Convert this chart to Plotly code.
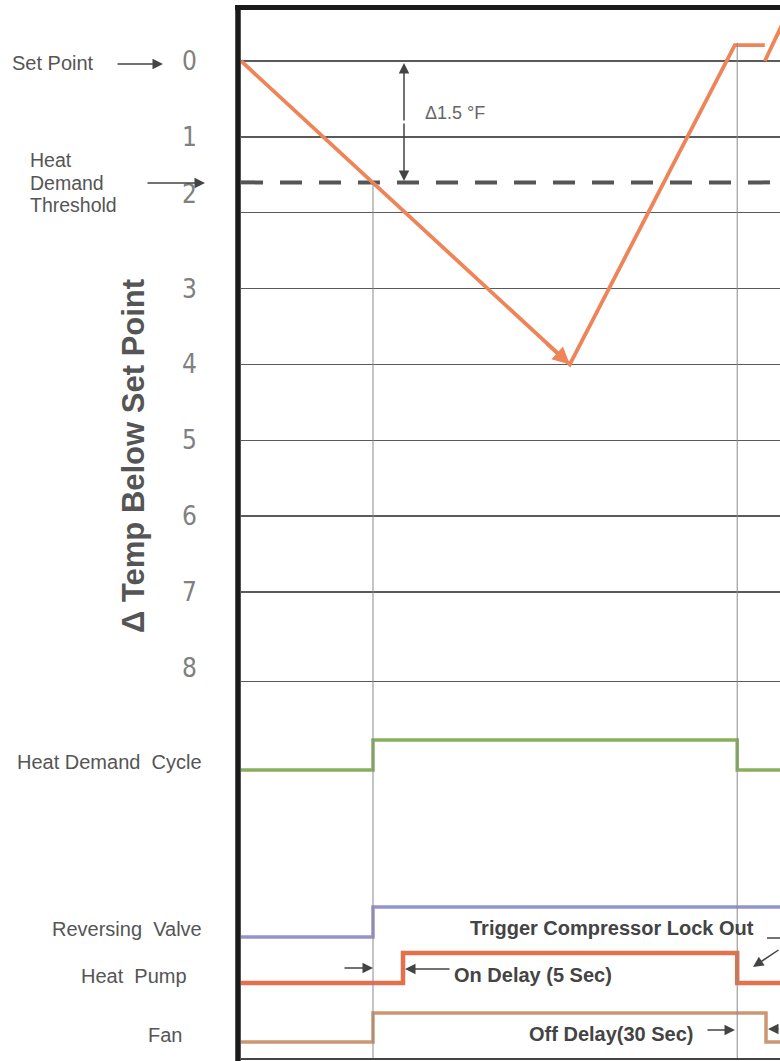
import plotly.graph_objects as go

# ---------------- data ----------------
# time axis (arbitrary units), temperature below set point (deg F)
temp_t = [0, 54.8, 82.3, 87.3]
temp_v = [0, 4.0, -0.21, -0.21]
temp2_t = [87.3, 90.6]
temp2_v = [0.0, -0.55]
threshold = 1.6

grid_vals = [0, 1, 2, 3, 4, 5, 6, 7, 8.18]
tick_text = ["0", "1", "2", "3", "4", "5", "6", "7", "8"]
tick_pos = [0, 1, 1.75, 3, 4, 5, 6, 7, 8]

# digital signals (second axis, each row has its own baseline)
hd_t = [0, 22, 82.7, 90]
hd_v = [9.6, 10.6, 9.6, 9.6]
rv_t = [0, 22, 90]
rv_v = [4.03, 5.03, 5.03]
hp_t = [0, 27, 82.7, 90]
hp_v = [2.5, 3.5, 2.5, 2.5]
fan_t = [0, 22, 87.5, 90]
fan_v = [0.53, 1.5, 0.53, 0.53]

cycle_start = 22
cycle_end = 82.7

# ---------------- layout helpers ----------------
W, H = 780, 1061
ML, MR, MT, MB = 241, 0, 10, 3
PW, PH = W - ML - MR, H - MT - MB


def px_x(p):
    return (p - ML) / PW


def px_y(p):
    return (H - MB - p) / PH


ORANGE = "#EE8458"
LBL = "#555555"
DARK = "#444444"
FONT = "Liberation Sans, Arial, sans-serif"

fig = go.Figure()

fig.add_trace(go.Scatter(x=temp_t, y=temp_v, mode="lines",
                         line=dict(color=ORANGE, width=3.8), yaxis="y"))
fig.add_trace(go.Scatter(x=temp2_t, y=temp2_v, mode="lines",
                         line=dict(color=ORANGE, width=3.8), yaxis="y"))

fig.add_trace(go.Scatter(x=hd_t, y=hd_v, mode="lines", line_shape="hv",
                         line=dict(color="#86B05E", width=3.5), yaxis="y2"))
fig.add_trace(go.Scatter(x=rv_t, y=rv_v, mode="lines", line_shape="hv",
                         line=dict(color="#9494CC", width=3.5), yaxis="y2"))
fig.add_trace(go.Scatter(x=hp_t, y=hp_v, mode="lines", line_shape="hv",
                         line=dict(color="#E4714C", width=4.5), yaxis="y2"))
fig.add_trace(go.Scatter(x=fan_t, y=fan_v, mode="lines", line_shape="hv",
                         line=dict(color="#CC9670", width=3.5), yaxis="y2"))

shapes = []
# threshold dashed line
shapes.append(dict(type="line", xref="paper", yref="y", x0=0, x1=1,
                   y0=threshold, y1=threshold,
                   line=dict(color="#555555", width=4, dash="22px,17px"), layer="below"))
# vertical cycle lines
shapes.append(dict(type="line", xref="x", yref="y", x0=cycle_start, x1=cycle_start,
                   y0=threshold, y1=13.2, line=dict(color="#8a8a8a", width=1)))
shapes.append(dict(type="line", xref="x", yref="y", x0=cycle_end, x1=cycle_end,
                   y0=-0.24, y1=13.2, line=dict(color="#8a8a8a", width=1)))
# frame: thick left and top borders
shapes.append(dict(type="line", xref="paper", yref="paper", x0=px_x(238), x1=px_x(238),
                   y0=px_y(1061), y1=px_y(5), line=dict(color="#1a1a1a", width=5.5)))
shapes.append(dict(type="line", xref="paper", yref="paper", x0=px_x(235), x1=1.01,
                   y0=px_y(7.5), y1=px_y(7.5), line=dict(color="#1a1a1a", width=5)))
# lock-out elbow leader
shapes.append(dict(type="line", xref="paper", yref="paper", x0=px_x(767), x1=px_x(792),
                   y0=px_y(938), y1=px_y(938), line=dict(color=DARK, width=1.5)))

ann = []


def text(t, x, y, size=20, anchor="right", color=LBL, family=FONT, **kw):
    ann.append(dict(text=t, xref="paper", yref="paper", x=px_x(x), y=px_y(y),
                    xanchor=anchor, yanchor="middle", showarrow=False,
                    font=dict(size=size, color=color, family=family), **kw))


def arrow(hx, hy, tx, ty, width=1.5, color=DARK, head=2, size=1.4):
    ann.append(dict(text="", xref="paper", yref="paper", x=px_x(hx), y=px_y(hy),
                    ax=tx - hx, ay=ty - hy, showarrow=True, arrowhead=head,
                    arrowsize=size, arrowwidth=width, arrowcolor=color, standoff=0))


# tick labels
for lab, pos in zip(tick_text, tick_pos):
    ann.append(dict(text=lab, xref="paper", yref="y", x=px_x(189), y=pos,
                    xanchor="center", yanchor="middle", showarrow=False,
                    font=dict(size=26, color="#808080",
                              family="Liberation Sans Narrow, DejaVu Sans Condensed, sans-serif")))

text("Set Point", 96, 63)
arrow(163, 64, 116, 64)
text("Heat", 28, 160, size=19.5, anchor="left")
text("Demand", 28, 183, size=19.5, anchor="left")
text("Threshold", 28, 205, size=19.5, anchor="left")
arrow(205, 183, 146, 183)

text("Heat Demand  Cycle", 204, 762)
text("Reversing  Valve", 204, 929)
text("Heat  Pump", 189, 976)
text("Fan", 184, 1035)

# y title
ann.append(dict(text="<b>Δ Temp Below Set Point</b>", xref="paper", yref="paper",
                x=px_x(134), y=px_y(456), xanchor="center", yanchor="middle",
                textangle=-90, showarrow=False,
                font=dict(size=31, color=LBL, family=FONT)))

# delta annotation
arrow(404, 63, 404, 122)
arrow(404, 181, 404, 122)
text("Δ1.5 °F", 423, 113, size=18, anchor="left", color="#666666")

# min-point arrowhead on temperature curve
ann.append(dict(text="", xref="x", yref="y", x=temp_t[1], y=temp_v[1],
                axref="x", ayref="y", ax=temp_t[1] - 4, ay=temp_v[1] - 0.29,
                showarrow=True, arrowhead=2, arrowsize=0.9, arrowwidth=3.8,
                arrowcolor=ORANGE, standoff=0))

# bottom annotations
text("<b>Trigger Compressor Lock Out</b>", 468, 928, size=20, anchor="left", color=DARK)
arrow(753, 967, 792, 949)
arrow(373, 968, 343, 968)
arrow(405, 969, 451, 969)
text("<b>On Delay (5 Sec)</b>", 452, 975, size=20, anchor="left", color=DARK)
text("<b>Off Delay(30 Sec)</b>", 527, 1034, size=20, anchor="left", color=DARK)
arrow(735, 1030, 706, 1030)
arrow(768, 1029, 792, 1029)

fig.update_layout(
    width=W, height=H,
    margin=dict(l=ML, r=MR, t=MT, b=MB, pad=0),
    paper_bgcolor="white", plot_bgcolor="white",
    showlegend=False,
    hovermode=False,
    xaxis=dict(range=[0, PW / 6], showgrid=False, zeroline=False,
               showticklabels=False, ticks="", showline=True,
               linecolor="#444444", linewidth=1.5),
    yaxis=dict(range=[(H - MB - 61) / 75.86, (MT - 61) / 75.86],
               tickvals=grid_vals, showticklabels=False, ticks="",
               showgrid=True, gridcolor="#5a5a5a", gridwidth=1.5, zeroline=False),
    yaxis2=dict(range=[0, PH / 30], overlaying="y", showgrid=False,
                zeroline=False, showticklabels=False, ticks="", visible=False),
    shapes=shapes,
    annotations=ann,
    font=dict(family=FONT),
)

fig.write_html("out.html",
               config={"displayModeBar": False, "staticPlot": True},
               post_script="document.body.style.margin='0';document.body.style.overflow='hidden';")
